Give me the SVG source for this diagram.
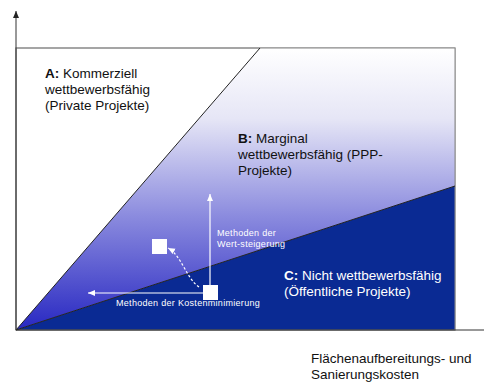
<svg xmlns="http://www.w3.org/2000/svg" width="484" height="382" viewBox="0 0 484 382">
<style>
text { font-family: "Liberation Sans", Arial, sans-serif; }
.big { font-size: 13.5px; fill: #111; }
.bigw { font-size: 13.5px; fill: #fff; }
.small { font-size: 9px; fill: #fff; letter-spacing: 0.3px; }
.axis { stroke: #333; stroke-width: 1; fill: none; }
.arr { stroke: #fff; stroke-width: 1.2; fill: none; }
.sq { fill: #fff; }
</style>
<defs>
<linearGradient id="gradB" x1="0" y1="48" x2="0" y2="330" gradientUnits="userSpaceOnUse">
<stop offset="0" stop-color="#ffffff"/>
<stop offset="0.25" stop-color="#e6e6f6"/>
<stop offset="0.6" stop-color="#8a8ade"/>
<stop offset="1" stop-color="#2828c2"/>
</linearGradient>
<marker id="ahW" markerWidth="8" markerHeight="8" refX="7" refY="4" orient="auto" markerUnits="userSpaceOnUse">
<path d="M0,1 L7,4 L0,7 Z" fill="#fff"/>
</marker>
<marker id="ahK" markerWidth="8" markerHeight="8" refX="7" refY="4" orient="auto" markerUnits="userSpaceOnUse">
<path d="M0,1 L7,4 L0,7 Z" fill="#222"/>
</marker>
</defs>
<rect width="484" height="382" fill="#fff"/>

<g id="regionA">
<rect x="16" y="48" width="439" height="282" fill="#fff" stroke="#888" stroke-width="1"/>
</g>
<g id="regionB">
<polygon points="16,330 260,48 455,48 455,186" fill="url(#gradB)"/>
</g>
<g id="regionC">
<polygon points="16,330 455,186 455,330" fill="#0a2a93"/>
</g>
<g id="frame">
<rect x="16" y="48" width="439" height="282" fill="none" stroke="#888" stroke-width="1"/>
<line x1="16" y1="330" x2="260" y2="48" stroke="#222" stroke-width="1"/>
<line x1="16" y1="330" x2="455" y2="186" stroke="#222" stroke-width="1"/>
</g>
<g id="axes">
<line class="axis" x1="16" y1="330" x2="16" y2="11" marker-end="url(#ahK)"/>
<line class="axis" x1="16" y1="330" x2="484" y2="330"/>
</g>

<g id="labelA">
<text class="big" x="45" y="78"><tspan font-weight="bold">A:</tspan> Kommerziell</text>
<text class="big" x="45" y="94">wettbewerbsfähig</text>
<text class="big" x="45" y="110">(Private Projekte)</text>
</g>
<g id="labelB">
<text class="big" x="238" y="143"><tspan font-weight="bold">B:</tspan> Marginal</text>
<text class="big" x="238" y="159">wettbewerbsfähig (PPP-</text>
<text class="big" x="238" y="175">Projekte)</text>
</g>
<g id="labelC">
<text class="bigw" x="284" y="280"><tspan font-weight="bold">C:</tspan> Nicht wettbewerbsfähig</text>
<text class="bigw" x="284" y="296">(Öffentliche Projekte)</text>
</g>
<g id="xlabel">
<text class="big" x="311" y="363">Flächenaufbereitungs- und</text>
<text class="big" x="311" y="379">Sanierungskosten</text>
</g>

<g id="square1"><rect class="sq" x="203" y="285" width="15" height="15"/></g>
<g id="square2"><rect class="sq" x="152" y="239" width="15" height="15"/></g>

<g id="connectors">
<line class="arr" x1="210" y1="285" x2="210" y2="194" marker-end="url(#ahW)"/>
<line class="arr" x1="203" y1="293" x2="88" y2="293" marker-end="url(#ahW)"/>
<path class="arr" d="M199,287 C186,278 182,256 168,248" stroke-dasharray="2.5,2" marker-end="url(#ahW)"/>
</g>

<g id="methodLabels">
<text class="small" x="217" y="236">Methoden der</text>
<text class="small" x="217" y="247">Wert-steigerung</text>
<text class="small" x="116" y="306">Methoden der Kostenminimierung</text>
</g>
</svg>
